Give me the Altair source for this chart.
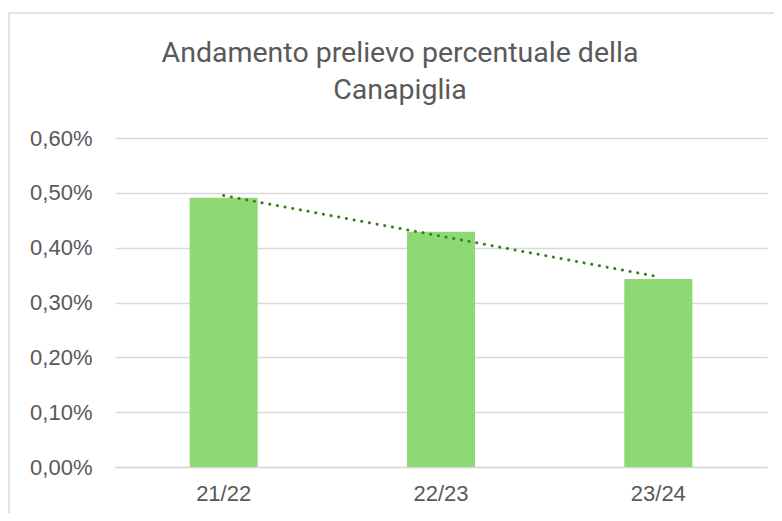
import altair as alt
import pandas as pd
import numpy as np

categories = ["21/22", "22/23", "23/24"]
values = [0.00491, 0.00429, 0.00343]
y_ticks = [0.0, 0.001, 0.002, 0.003, 0.004, 0.005, 0.006]
title_lines = ["Andamento prelievo percentuale della", "Canapiglia"]

# linear trend line (as Excel's linear trendline)
idx = np.arange(1, len(values) + 1)
slope, intercept = np.polyfit(idx, values, 1)
trend = slope * idx + intercept

df = pd.DataFrame({"cat": categories, "val": values, "trend": trend})

GRAY = "#595959"
FONT = "Liberation Sans"

x_enc = alt.X(
    "cat:N", sort=categories, title=None,
    scale=alt.Scale(paddingInner=0.687, paddingOuter=0.3435),
    axis=alt.Axis(labelAngle=0, ticks=False, tickSize=0, grid=False,
                  domainColor="#d9d9d9", domainWidth=1.5,
                  labelFont=FONT, labelFontSize=22, labelColor=GRAY,
                  labelPadding=16),
)
y_enc = alt.Y(
    "val:Q", title=None,
    scale=alt.Scale(domain=[0, 0.006], nice=False),
    axis=alt.Axis(values=y_ticks, ticks=False, tickSize=0, domain=False,
                  gridColor="#d9d9d9", gridWidth=1.5,
                  labelFont=FONT, labelFontSize=22, labelColor=GRAY,
                  labelPadding=23,
                  labelExpr="replace(format(datum.value, '.2%'), '.', ',')"),
)

frame = alt.Chart(alt.Data(values=[{"a": 1}])).mark_rect(
    fill="white", fillOpacity=0, stroke="#d9d9d9", strokeWidth=1.5
).encode(
    x=alt.value(-106), x2=alt.value(700),
    y=alt.value(-125), y2=alt.value(420),
)

bars = alt.Chart(df).mark_bar(color="#8fd974").encode(x=x_enc, y=y_enc)

line = alt.Chart(df).mark_line(
    color="#3a7d22", strokeWidth=3, strokeDash=[0.1, 7.7], strokeCap="round"
).encode(x=alt.X("cat:N", sort=categories), y=alt.Y("trend:Q"))

chart = alt.layer(frame, bars, line).properties(
    width=652, height=329,
    autosize=alt.AutoSizeParams(type="none"),
    padding={"left": 107, "top": 130, "right": 7, "bottom": 46},
    title=alt.TitleParams(title_lines, font="Roboto", fontSize=28.5,
                          fontWeight="normal", color=GRAY, anchor="middle",
                          frame="group", dx=-41, lineHeight=37, offset=-92),
).configure(background="white").configure_view(stroke=None)

chart.save("out.html", embed_options={"renderer": "svg", "actions": False})
